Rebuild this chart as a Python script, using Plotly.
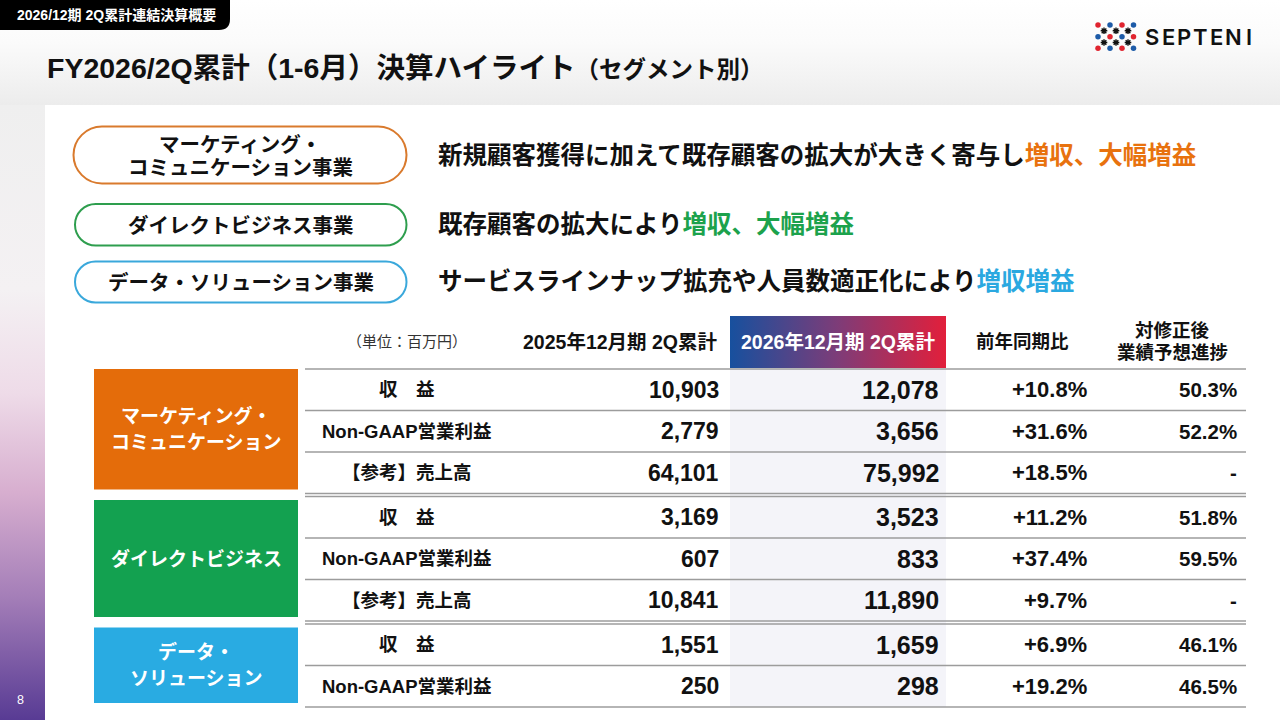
import plotly.graph_objects as go

# ---- データ（単位：百万円） ----
segments = ["マーケティング・<br>コミュニケーション", "ダイレクトビジネス", "データ・<br>ソリューション"]
segment_rows = [3, 3, 2]
row_labels = ["収　益", "Non-GAAP営業利益", "【参考】売上高",
              "収　益", "Non-GAAP営業利益", "【参考】売上高",
              "収　益", "Non-GAAP営業利益"]
prev_2q = [10903, 2779, 64101, 3169, 607, 10841, 1551, 250]
curr_2q = [12078, 3656, 75992, 3523, 833, 11890, 1659, 298]
yoy_pct = [10.8, 31.6, 18.5, 11.2, 37.4, 9.7, 6.9, 19.2]
progress_pct = [50.3, 52.2, None, 51.8, 59.5, None, 46.1, 46.5]

col_headers = ["2025年12月期 2Q累計", "2026年12月期 2Q累計", "前年同期比", "対修正後<br>業績予想進捗"]
unit_label = "（単位：百万円）"

# 上段のハイライト
pill_names = ["マーケティング・<br>コミュニケーション事業", "ダイレクトビジネス事業", "データ・ソリューション事業"]
pill_lead = ["新規顧客獲得に加えて既存顧客の拡大が大きく寄与し", "既存顧客の拡大により",
             "サービスラインナップ拡充や人員数適正化により"]
pill_result = ["増収、大幅増益", "増収、大幅増益", "増収増益"]

tab_text = "2026/12期 2Q累計連結決算概要"
title_main = "FY2026/2Q累計（1-6月）決算ハイライト"
title_sub = "（セグメント別）"
page_no = "8"

# ---- スタイル ----
seg_colors = ["#E46C0A", "#13A150", "#29ABE2"]
pill_line_colors = ["#D97A2D", "#2E9E4E", "#3AA8DB"]
accent_colors = ["#E8720E", "#1CA24C", "#2AA8E0"]
FONT = "Liberation Sans, Arial, Noto Sans CJK JP"
LINE_C = "#9C9C9C"

W, H = 1280, 720
fig = go.Figure()
shapes = []
ann = []


def grad_fill(x, y, orient, start, stop, scale):
    fig.add_trace(go.Scatter(
        x=x, y=y, mode="lines", fill="toself", line=dict(width=0),
        fillgradient=dict(type=orient, start=start, stop=stop, colorscale=scale),
        hoverinfo="skip", showlegend=False))


def text(x, y, s, size, color="#111111", anchor="center", bold=True, family=FONT,
         weight=None):
    ann.append(dict(x=x, y=y, xref="x", yref="y", text=s, showarrow=False,
                    xanchor=anchor, yanchor="middle", align="center", borderpad=0,
                    font=dict(family=family, size=size, color=color,
                              weight=weight or ("bold" if bold else "normal"))))


def multiline(x, y, s, size, color, spacing):
    lines = s.split("<br>")
    n = len(lines)
    for j, ln in enumerate(lines):
        text(x, y + (j - (n - 1) / 2) * spacing, ln, size, color)


def pill_path(x0, y0, x1, y1):
    r = (y1 - y0) / 2
    k = 0.5523 * r
    ym = (y0 + y1) / 2
    return (f"M{x0 + r},{y0} L{x1 - r},{y0} "
            f"C{x1 - r + k},{y0} {x1},{ym - k} {x1},{ym} "
            f"C{x1},{ym + k} {x1 - r + k},{y1} {x1 - r},{y1} "
            f"L{x0 + r},{y1} "
            f"C{x0 + r - k},{y1} {x0},{ym + k} {x0},{ym} "
            f"C{x0},{ym - k} {x0 + r - k},{y0} {x0 + r},{y0} Z")


# 背景
grad_fill([0, W, W, 0, 0], [0, 0, 105, 105, 0], "vertical", 0, 105,
          [[0, "#ffffff"], [0.4, "#fbfbfb"], [1, "#ececec"]])
grad_fill([0, 45, 45, 0, 0], [105, 105, H, H, 105], "vertical", 105, H,
          [[0, "#efefef"], [0.3, "#f4f1f3"], [0.47, "#eedbe8"], [0.63, "#d7aecf"],
           [0.8, "#a47eb8"], [1, "#583b94"]])

# ヘッダータブ
shapes.append(dict(type="path", path="M0,0 L230,0 L230,19 Q230,30 219,30 L0,30 Z",
                   fillcolor="#000000", line=dict(width=0), layer="above"))
text(116, 15, tab_text, 14, "#ffffff")

# タイトル
text(46, 68, f"{title_main}<span style='font-size:23.5px'>{title_sub}</span>", 28.5,
     anchor="left")

# ロゴ
dot_x = [1098, 1110, 1122, 1133.5]
dot_y = [25, 36.7, 48.3]
reds, blues = ([], []), ([], [])
for r, yy in enumerate(dot_y):
    for c, xx in enumerate(dot_x):
        tgt = reds if (r + c) % 2 == 0 else blues
        tgt[0].append(xx)
        tgt[1].append(yy)
fig.add_trace(go.Scatter(x=reds[0], y=reds[1], mode="markers",
                         marker=dict(size=5.5, color="#E0242F"), hoverinfo="skip",
                         showlegend=False))
fig.add_trace(go.Scatter(x=blues[0], y=blues[1], mode="markers",
                         marker=dict(size=5.5, color="#1D5BA8"), hoverinfo="skip",
                         showlegend=False))
star_x = [x for _ in range(2) for x in (1104, 1116, 1128)]
star_y = [y for y in (30.8, 42.5) for _ in range(3)]
fig.add_trace(go.Scatter(x=star_x, y=star_y, mode="markers",
                         marker=dict(size=5.5, symbol="asterisk",
                                     line=dict(width=1.4, color="#111111")),
                         hoverinfo="skip", showlegend=False))
for i, ch in enumerate("SEPTENI"):
    text(1152 + i * 16.2, 37, ch, 22, "#111111", family="Inter, Lato, sans-serif",
         weight=600)

# ハイライト（ピル + 説明文）
pill_box = [(73.5, 126.5, 406.5, 183.5), (75, 204, 406.5, 245.5), (75, 261.5, 406.5, 302.5)]
text_y = [155, 224, 281]
for i in range(len(pill_names)):
    x0, y0, x1, y1 = pill_box[i]
    shapes.append(dict(type="path", path=pill_path(x0, y0, x1, y1), fillcolor="#ffffff",
                       line=dict(color=pill_line_colors[i], width=2), layer="above"))
    multiline((x0 + x1) / 2, (y0 + y1) / 2 + 0.5, pill_names[i], 20.5, "#111111", 23)
    text(437, text_y[i],
         f"{pill_lead[i]}<span style='color:{accent_colors[i]}'>{pill_result[i]}</span>",
         24.5, anchor="left")

# ---- 表 ----
TOP = 369
ROW_H = 41.5
GAP = 3
X_L, X_R = 305, 1246
COL_LABEL, COL_PREV, COL_CURR, COL_YOY, COL_PROG = 407, 720, 940, 1088, 1238
CURR_X0, CURR_X1 = 730, 946

row_seg = []
for s, n in enumerate(segment_rows):
    row_seg += [s] * n
row_top = [TOP + i * ROW_H + row_seg[i] * GAP for i in range(len(row_labels))]
row_mid = [t + ROW_H / 2 for t in row_top]

# 当期列の網掛け
shapes.append(dict(type="rect", x0=CURR_X0, x1=CURR_X1, y0=TOP, y1=row_top[-1] + ROW_H,
                   fillcolor="#F4F4F9", line=dict(width=0), layer="above"))

# ヘッダー
grad_fill([CURR_X0, CURR_X1, CURR_X1, CURR_X0, CURR_X0], [316, 316, 368, 368, 316],
          "horizontal", CURR_X0, CURR_X1, [[0, "#17509E"], [0.5, "#7E3C78"], [1, "#E21F3B"]])
HEAD_Y = 342
text(COL_LABEL, 341, unit_label, 15, "#333333", bold=False)
text(COL_PREV - 1, HEAD_Y, col_headers[0], 19.5, anchor="right")
text((CURR_X0 + CURR_X1) / 2, HEAD_Y, col_headers[1], 19.5, "#ffffff")
text(1022, 341, col_headers[2], 18.5)
multiline(1172, 341, col_headers[3], 18.5, "#111111", 22)


def hline(y):
    shapes.append(dict(type="line", x0=X_L, x1=X_R, y0=y, y1=y,
                       line=dict(color=LINE_C, width=1.3), layer="above"))


hline(TOP)
last_of_seg = set()
acc = 0
for n in segment_rows:
    acc += n
    last_of_seg.add(acc - 1)
for i in range(len(row_labels)):
    yb = row_top[i] + ROW_H
    hline(yb)
    if i in last_of_seg and i != len(row_labels) - 1:
        hline(yb + GAP)

# セグメント色ボックス
start = 0
for s, n in enumerate(segment_rows):
    y0 = row_top[start] + (0 if s == 0 else 3.5)
    y1 = row_top[start + n - 1] + ROW_H - 4
    shapes.append(dict(type="rect", x0=94, x1=298, y0=y0, y1=y1,
                       fillcolor=seg_colors[s], line=dict(width=0), layer="above"))
    multiline(196, (y0 + y1) / 2, segments[s], 19, "#ffffff", 26)
    start += n

# 数値
for i, lab in enumerate(row_labels):
    y = row_mid[i]
    text(COL_LABEL, y, lab, 18.5)
    text(COL_PREV, y, f"{prev_2q[i]:,}", 23, anchor="right")
    text(COL_CURR, y, f"{curr_2q[i]:,}", 25, anchor="right")
    text(COL_YOY, y, f"{yoy_pct[i]:+.1f}%", 22, anchor="right")
    p = progress_pct[i]
    text(COL_PROG, y, "-" if p is None else f"{p:.1f}%", 20.5, anchor="right")

# ページ番号
text(20, 700, page_no, 12.5, "#ffffff", bold=False)

fig.update_layout(
    width=W, height=H,
    margin=dict(l=0, r=0, t=0, b=0),
    paper_bgcolor="#ffffff", plot_bgcolor="#ffffff",
    xaxis=dict(range=[0, W], visible=False, fixedrange=True),
    yaxis=dict(range=[H, 0], visible=False, fixedrange=True),
    shapes=shapes, annotations=ann, showlegend=False,
)

# ページ既定の余白(8px)を消して 1280x720 にぴったり合わせる
fig.write_html("out.html", config={"displayModeBar": False},
               post_script="document.body.style.margin='0';")
